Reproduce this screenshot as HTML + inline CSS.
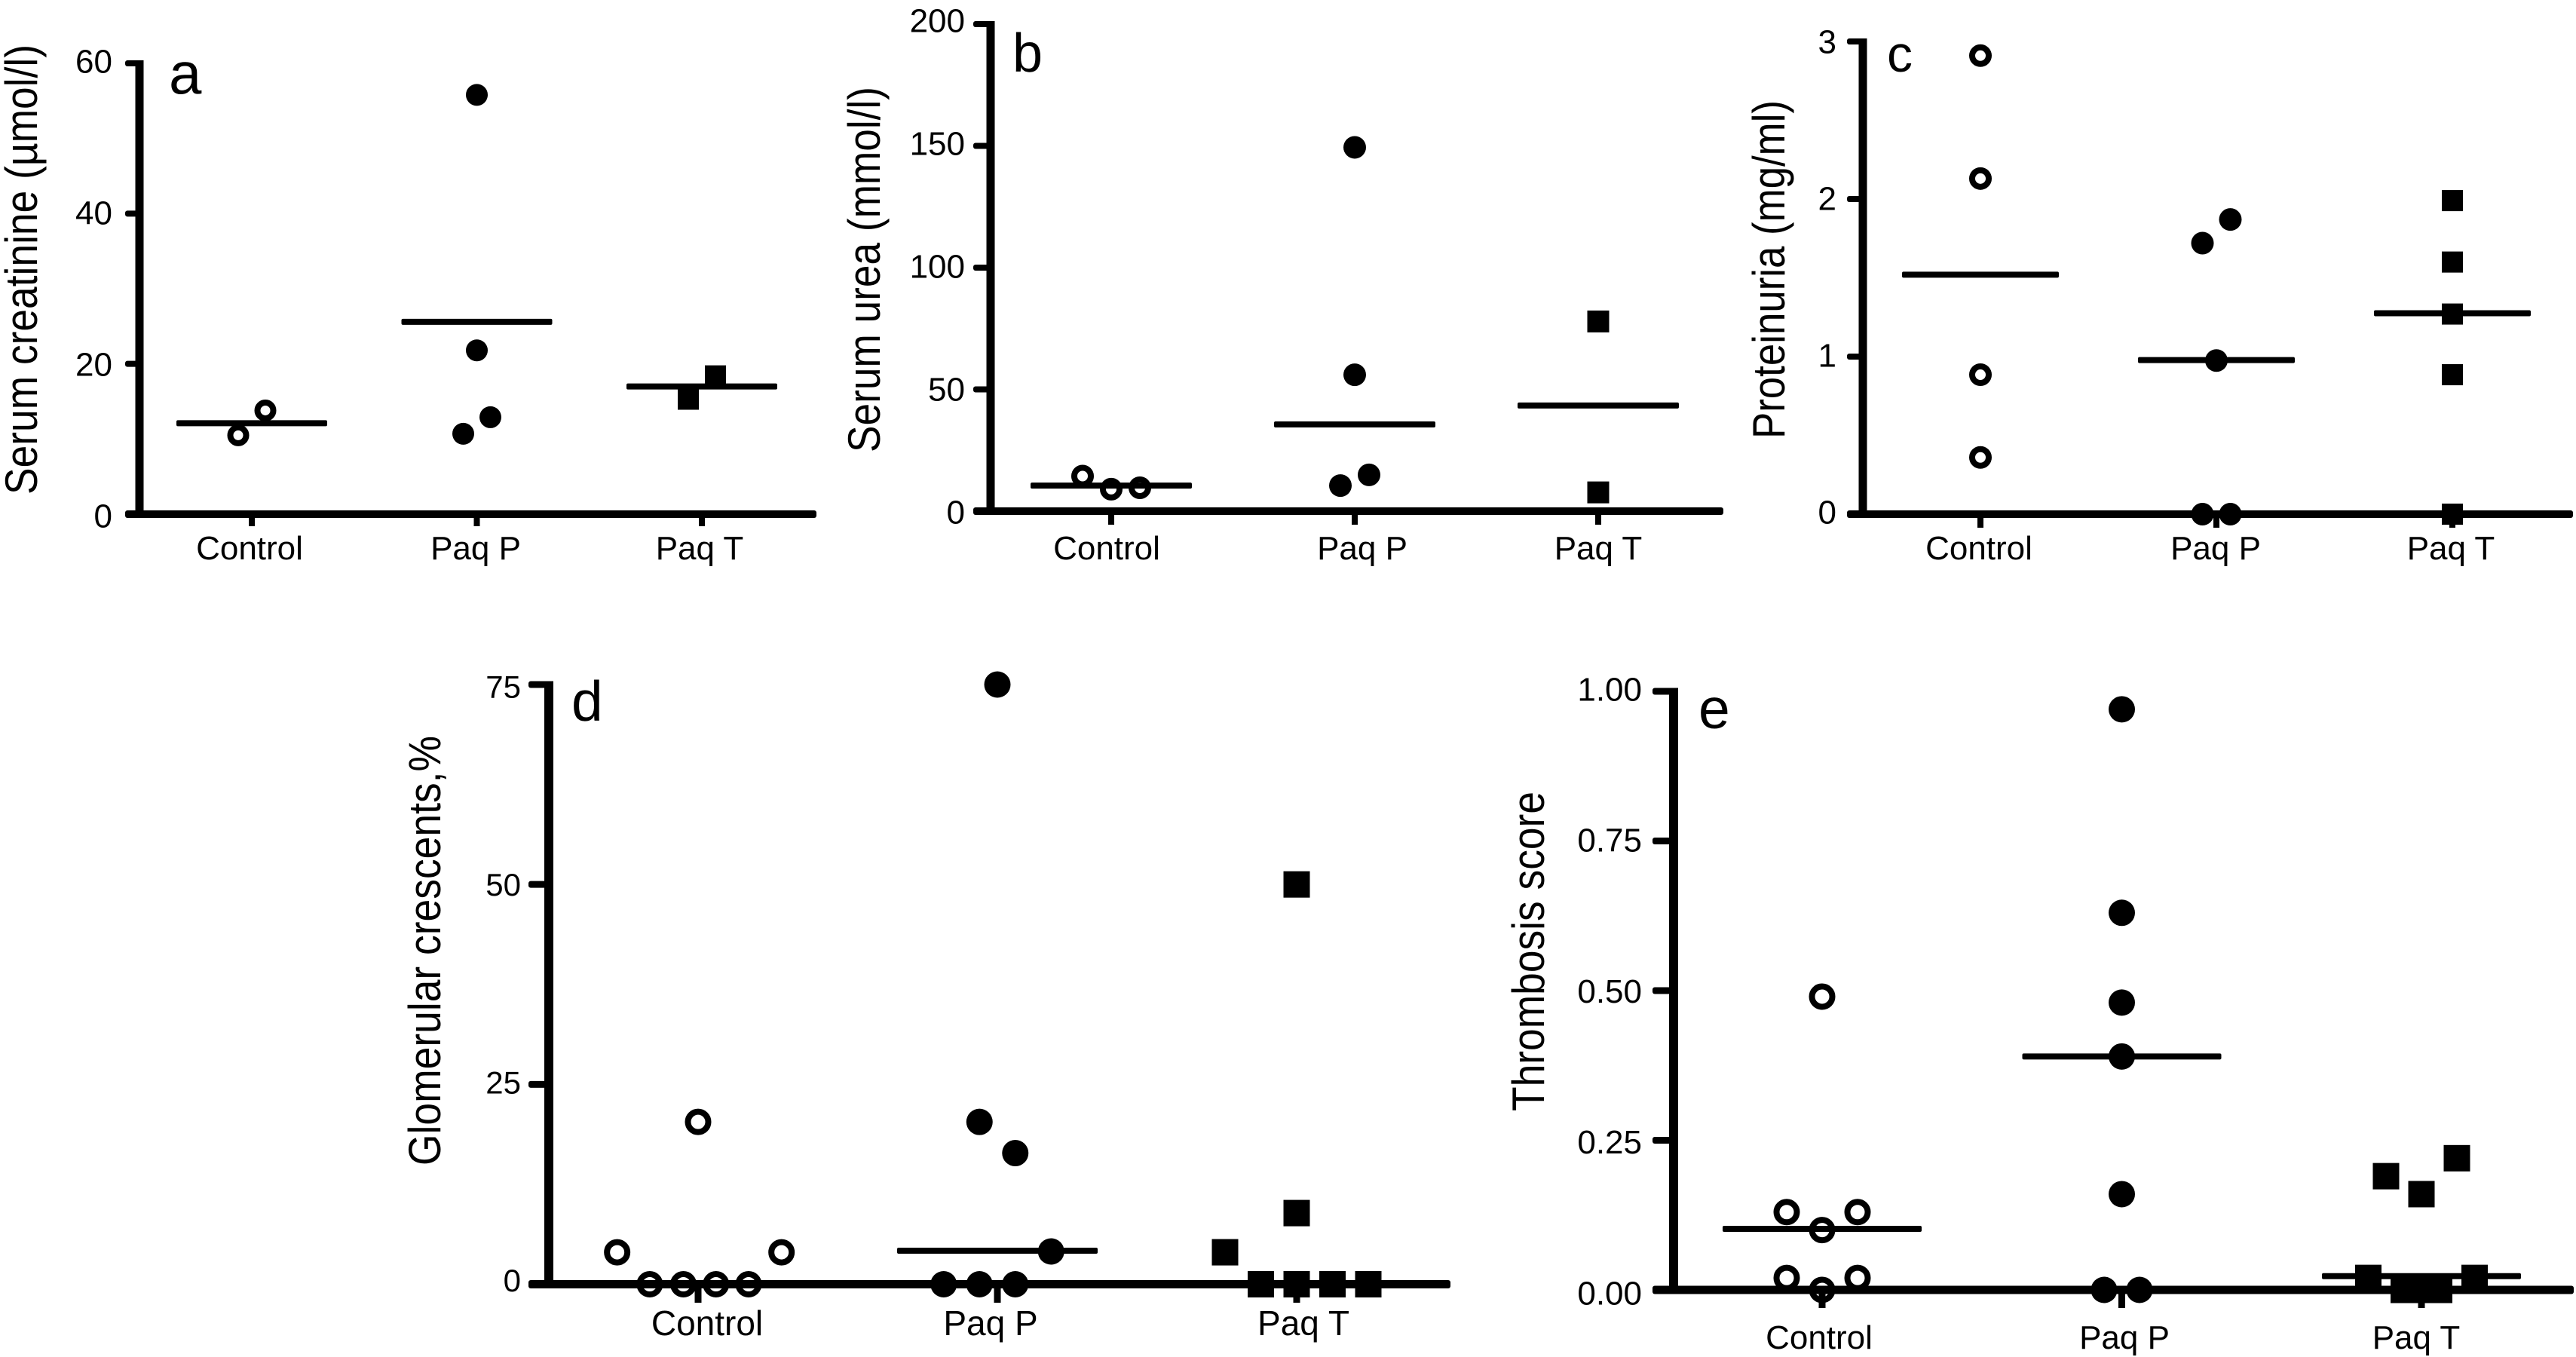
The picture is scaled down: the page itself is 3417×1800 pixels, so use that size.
<!DOCTYPE html>
<html lang="en">
<head>
<meta charset="utf-8">
<title>Renal outcome scatter panels</title>
<style>
html,body{margin:0;padding:0;background:#fff;}
svg{display:block;}
text{font-family:"Liberation Sans",sans-serif;fill:#000;}
</style>
</head>
<body>
<svg id="figure" xmlns="http://www.w3.org/2000/svg" width="3417" height="1800" viewBox="0 0 3417 1800"></svg>
<script>
// Shared categories
const categories = ['Control', 'Paq P', 'Paq T'];

// Panel a: serum creatinine
const creatinineTicks = [0, 20, 40, 60];
const creatinineControl = [13.8, 10.5];
const creatinineControlSlots = [0.5, -0.5];
const creatininePaqP = [55.8, 21.8, 12.9, 10.7];
const creatininePaqPSlots = [0, 0, 0.5, -0.5];
const creatininePaqT = [18.3, 15.4];
const creatininePaqTSlots = [0.5, -0.5];
const creatinineMeans = [12.1, 25.6, 17];

// Panel b: serum urea
const ureaTicks = [0, 50, 100, 150, 200];
const ureaControl = [14.4, 9, 9.6];
const ureaControlSlots = [-1, 0, 1];
const ureaPaqP = [149.4, 56, 14.9, 10.5];
const ureaPaqPSlots = [0, 0, 0.5, -0.5];
const ureaPaqT = [77.9, 7.7];
const ureaPaqTSlots = [0, 0];
const ureaMeans = [10.5, 35.6, 43.4];

// Panel c: proteinuria
const proteinuriaTicks = [0, 1, 2, 3];
const proteinuriaControl = [2.91, 2.13, 0.885, 0.36];
const proteinuriaControlSlots = [0, 0, 0, 0];
const proteinuriaPaqP = [1.87, 1.72, 0.975, 0, 0];
const proteinuriaPaqPSlots = [0.5, -0.5, 0, -0.5, 0.5];
const proteinuriaPaqT = [1.99, 1.6, 1.27, 0.885, 0];
const proteinuriaPaqTSlots = [0, 0, 0, 0, 0];
const proteinuriaMeans = [1.52, 0.978, 1.275];

// Panel d: glomerular crescents
const crescentTicks = [0, 25, 50, 75];
const crescentControl = [20.3, 4, 0, 0, 0, 0, 4];
const crescentControlSlots = [0, -2.26, -1.35, -0.41, 0.5, 1.41, 2.33];
const crescentPaqP = [75, 20.3, 16.4, 4.1, 0, 0, 0];
const crescentPaqPSlots = [0, -0.5, 0.5, 1.5, -1.5, -0.5, 0.5];
const crescentPaqT = [50, 8.9, 4, 0, 0, 0, 0];
const crescentPaqTSlots = [0, 0, -2, -1, 0, 1, 2];
const crescentMeans = [null, 4.2, null];

// Panel e: thrombosis score
const thrombosisTicks = [0, 0.25, 0.5, 0.75, 1];
const thrombosisControl = [0.49, 0.13, 0.13, 0.1, 0.02, 0.02, 0];
const thrombosisControlSlots = [0, -1, 1, 0, -1, 1, 0];
const thrombosisPaqP = [0.97, 0.63, 0.48, 0.39, 0.16, 0, 0];
const thrombosisPaqPSlots = [0, 0, 0, 0, 0, -0.5, 0.5];
const thrombosisPaqT = [0.22, 0.19, 0.16, 0.02, 0.02, 0, 0, 0];
const thrombosisPaqTSlots = [1, -1, 0, -1.5, 1.5, -0.5, 0, 0.5];
const thrombosisMeans = [0.102, 0.39, 0.023];

const panels = [
  { id:'a', title:'Serum creatinine (µmol/l)', letter:'a', ticks:creatinineTicks, decimals:0, max:60,
    series:[[creatinineControl,creatinineControlSlots],[creatininePaqP,creatininePaqPSlots],[creatininePaqT,creatininePaqTSlots]], means:creatinineMeans,
    axisX:185, yTop:84, y0:682, tickLeft:166, xEnd:1083, cat0:334, catStep:298.5, tickBottom:698, slot:36, meanHalf:100,
    r:14.5, sqW:28, sqH:30, axisW:11, baseH:10, tickH:8, stroke:8, labelFs:44, labelRight:149, labelBase:742,
    labelTopShift:-3, labelBottomShift:2,
    labelCx:[331,631,928], titleX:49, titleBottom:656, titleLen:597, letterX:224, letterY:124, letterFs:78 },
  { id:'b', title:'Serum urea (mmol/l)', letter:'b', ticks:ureaTicks, decimals:0, max:200,
    series:[[ureaControl,ureaControlSlots],[ureaPaqP,ureaPaqPSlots],[ureaPaqT,ureaPaqTSlots]], means:ureaMeans,
    axisX:1314, yTop:32, y0:678, tickLeft:1291, xEnd:2286, cat0:1474, catStep:323, tickBottom:696, slot:38, meanHalf:107,
    r:15, sqW:29, sqH:29, axisW:11, baseH:10, tickH:8, stroke:8, labelFs:44, labelRight:1280, labelBase:742,
    labelTopShift:-5, labelBottomShift:1,
    labelCx:[1468,1807,2120], titleX:1167, titleBottom:600, titleLen:485, letterX:1343, letterY:95, letterFs:72 },
  { id:'c', title:'Proteinuria (mg/ml)', letter:'c', ticks:proteinuriaTicks, decimals:0, max:3,
    series:[[proteinuriaControl,proteinuriaControlSlots],[proteinuriaPaqP,proteinuriaPaqPSlots],[proteinuriaPaqT,proteinuriaPaqTSlots]], means:proteinuriaMeans,
    axisX:2471, yTop:55, y0:682, tickLeft:2450, xEnd:3413, cat0:2627, catStep:313, tickBottom:700, slot:37, meanHalf:104,
    r:15, sqW:28, sqH:28, axisW:11, baseH:10, tickH:8, stroke:8, labelFs:44, labelRight:2436, labelBase:742,
    labelTopShift:0, labelBottomShift:-3,
    labelCx:[2625,2939,3251], titleX:2367, titleBottom:582, titleLen:449, letterX:2503, letterY:95, letterFs:68 },
  { id:'d', title:'Glomerular crescents,%', letter:'d', ticks:crescentTicks, decimals:0, max:75,
    series:[[crescentControl,crescentControlSlots],[crescentPaqP,crescentPaqPSlots],[crescentPaqT,crescentPaqTSlots]], means:crescentMeans,
    axisX:728, yTop:908, y0:1703.5, tickLeft:701, xEnd:1924, cat0:926, catStep:397, tickBottom:1728, slot:47.5, meanHalf:133,
    r:17.5, sqW:35, sqH:35, axisW:12, baseH:11, tickH:9, stroke:8, labelFs:42, labelRight:691, labelBase:1771,
    labelTopShift:3, labelBottomShift:-5,
    labelCx:[938,1314,1729], titleX:584, titleBottom:1546, titleLen:570, letterX:758, letterY:956, letterFs:75, xLabelFs:46 },
  { id:'e', title:'Thrombosis score', letter:'e', ticks:thrombosisTicks, decimals:2, max:1,
    series:[[thrombosisControl,thrombosisControlSlots],[thrombosisPaqP,thrombosisPaqPSlots],[thrombosisPaqT,thrombosisPaqTSlots]], means:thrombosisMeans,
    axisX:2220, yTop:917, y0:1711, tickLeft:2192, xEnd:3414, cat0:2417, catStep:397.5, tickBottom:1735, slot:47, meanHalf:132,
    r:17.5, sqW:35, sqH:35, axisW:12, baseH:11, tickH:9, stroke:8, labelFs:44, labelRight:2178, labelBase:1789,
    labelTopShift:-3, labelBottomShift:4,
    labelCx:[2413,2818,3205], titleX:2048, titleBottom:1474, titleLen:424, letterX:2253, letterY:966, letterFs:75 }
];

const svgNS = 'http://www.w3.org/2000/svg';
const figure = document.getElementById('figure');

function make(tag, parent, attrs, content) {
  const node = document.createElementNS(svgNS, tag);
  for (const key in attrs) node.setAttribute(key, attrs[key]);
  if (content !== undefined) node.textContent = content;
  parent.appendChild(node);
  return node;
}

function slug(text) {
  return text.toLowerCase().replace(/[^a-z0-9]+/g, '-');
}

panels.forEach(function (p) {
  const yScale = function (v) { return p.y0 - (v / p.max) * (p.y0 - p.yTop); };
  const xScale = function (catIndex, slotIndex) { return p.cat0 + catIndex * p.catStep + slotIndex * p.slot; };

  const group = make('g', figure, {});
  
  

  // Open control markers sit underneath the axes and mean lines.
  const drawPoint = function (catIndex, value, slotIndex) {
    const cx = xScale(catIndex, slotIndex);
    const cy = yScale(value);
    let mark;
    if (catIndex === 0) {
      mark = make('circle', group, { cx: cx, cy: cy, r: p.r - p.stroke / 2, fill: '#fff', stroke: '#000', 'stroke-width': p.stroke });
    } else if (catIndex === 1) {
      mark = make('circle', group, { cx: cx, cy: cy, r: p.r, fill: '#000' });
    } else {
      mark = make('rect', group, { x: cx - p.sqW / 2, y: cy - p.sqH / 2, width: p.sqW, height: p.sqH, fill: '#000' });
    }
    
    
  };

  p.series[0][0].forEach(function (v, i) { drawPoint(0, v, p.series[0][1][i]); });

  // Axes and ticks
  const yAxis = make('rect', group, { x: p.axisX - p.axisW / 2, y: p.yTop - p.tickH / 2, width: p.axisW, height: p.y0 - p.yTop + p.tickH / 2, fill: '#000' });
  
  

  const xAxis = make('rect', group, { x: p.tickLeft, y: p.y0 - p.baseH / 2, width: p.xEnd - p.tickLeft, height: p.baseH, rx: 3, fill: '#000' });
  
  

  p.ticks.forEach(function (t) {
    const ty = yScale(t);
    const share = t / p.max;
    const shift = p.labelBottomShift + (p.labelTopShift - p.labelBottomShift) * share;
    const tick = make('rect', group, { x: p.tickLeft, y: ty - p.tickH / 2, width: p.axisX - p.tickLeft, height: p.tickH, rx: 3, fill: '#000' });
    
    
    const label = make('text', group, { x: p.labelRight, y: ty + shift + p.labelFs * 0.35, 'font-size': p.labelFs, 'text-anchor': 'end' }, t.toFixed(p.decimals));
    
    
  });

  categories.forEach(function (c, i) {
    const cx = xScale(i, 0);
    const tick = make('rect', group, { x: cx - p.tickH / 2, y: p.y0, width: p.tickH, height: p.tickBottom - p.y0, fill: '#000' });
    
    
    const label = make('text', group, { x: p.labelCx[i], y: p.labelBase, 'font-size': p.xLabelFs || 44, 'text-anchor': 'middle' }, c);
    
    
  });

  // Filled markers
  [1, 2].forEach(function (catIndex) {
    p.series[catIndex][0].forEach(function (v, i) { drawPoint(catIndex, v, p.series[catIndex][1][i]); });
  });

  // Mean lines
  p.means.forEach(function (m, i) {
    if (m === null) return;
    const cx = xScale(i, 0);
    const meanLine = make('rect', group, { x: cx - p.meanHalf, y: yScale(m) - 4, width: p.meanHalf * 2, height: 8, rx: 2, fill: '#000' });
    
    
  });

  // Titles
  const title = make('text', group, {
    x: p.titleX, y: p.titleBottom, 'font-size': 60, textLength: p.titleLen, lengthAdjust: 'spacingAndGlyphs',
    transform: 'rotate(-90 ' + p.titleX + ' ' + p.titleBottom + ')'
  }, p.title);
  
  

  const letter = make('text', group, { x: p.letterX, y: p.letterY, 'font-size': p.letterFs }, p.letter);
  
  
});
</script>
</body>
</html>
